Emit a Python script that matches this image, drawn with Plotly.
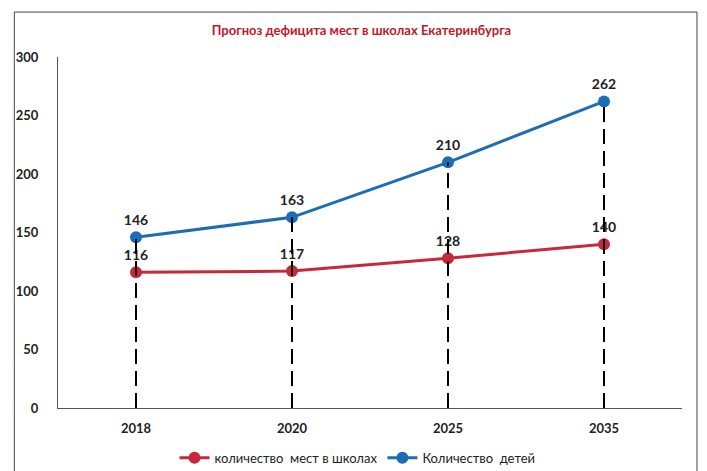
import plotly.graph_objects as go

years = ["2018", "2020", "2025", "2035"]
places = [116, 117, 128, 140]
children = [146, 163, 210, 262]
name_places = "количество  мест в школах"
name_children = "Количество  детей"
title = "Прогноз дефицита мест в школах Екатеринбурга"

FONT = "Lato, Open Sans, sans-serif"
RED = "#c8283c"
BLUE = "#1b6db5"

fig = go.Figure()
fig.add_trace(go.Scatter(
    x=years, y=children, mode="lines+markers+text", name=name_children,
    line=dict(color=BLUE, width=3), marker=dict(color=BLUE, size=12),
    text=[str(v) for v in children], textposition="top center",
    textfont=dict(family=FONT, size=14, color="#222"),
))
fig.add_trace(go.Scatter(
    x=years, y=places, mode="lines+markers+text", name=name_places,
    line=dict(color=RED, width=3), marker=dict(color=RED, size=12),
    text=[str(v) for v in places], textposition="top center",
    textfont=dict(family=FONT, size=14, color="#222"),
))
for yr, v in zip(years, children):
    fig.add_trace(go.Scatter(
        x=[yr, yr], y=[0, v], mode="lines", showlegend=False, hoverinfo="skip",
        line=dict(color="black", width=2, dash="15px,7px"),
    ))

fig.update_layout(
    width=707, height=471,
    margin=dict(l=50, r=33, t=49, b=71, autoexpand=False),
    paper_bgcolor="white", plot_bgcolor="white",
    font=dict(family=FONT, size=13, color="#222"),
    title=dict(text="<b>" + title + "</b>", x=0.5, xanchor="center", y=0.953, yanchor="middle",
               font=dict(family=FONT, size=13, color="#c0192b")),
    showlegend=True,
    legend=dict(orientation="h", x=0.48, xanchor="center", y=-0.142, yanchor="middle",
                traceorder="reversed", entrywidth=0, itemwidth=30,
                font=dict(family=FONT, size=13, color="#222")),
    xaxis=dict(type="category", showgrid=False, showline=True, linecolor="#555", linewidth=1,
               ticks="", ticklabelstandoff=8, tickfont=dict(family=FONT, size=13, color="#222"),
               range=[-0.5, 3.5]),
    yaxis=dict(range=[0, 300], dtick=50, showgrid=False, showline=True, linecolor="#555",
               linewidth=1, ticks="", zeroline=False, ticklabelstandoff=16,
               tickfont=dict(family=FONT, size=13, color="#222")),
    shapes=[dict(type="rect", xref="paper", yref="paper", x0=-0.07, x1=1.024, y0=-0.3, y1=1.128,
                 line=dict(color="#444", width=1), fillcolor="rgba(0,0,0,0)", layer="below")],
)
fig.update_xaxes(tickprefix="<b>", ticksuffix="</b>")
fig.update_yaxes(tickprefix="<b>", ticksuffix="</b>")
fig.update_traces(texttemplate="<b>%{text}</b>", selector=dict(mode="lines+markers+text"))
fig.write_html("out.html")
